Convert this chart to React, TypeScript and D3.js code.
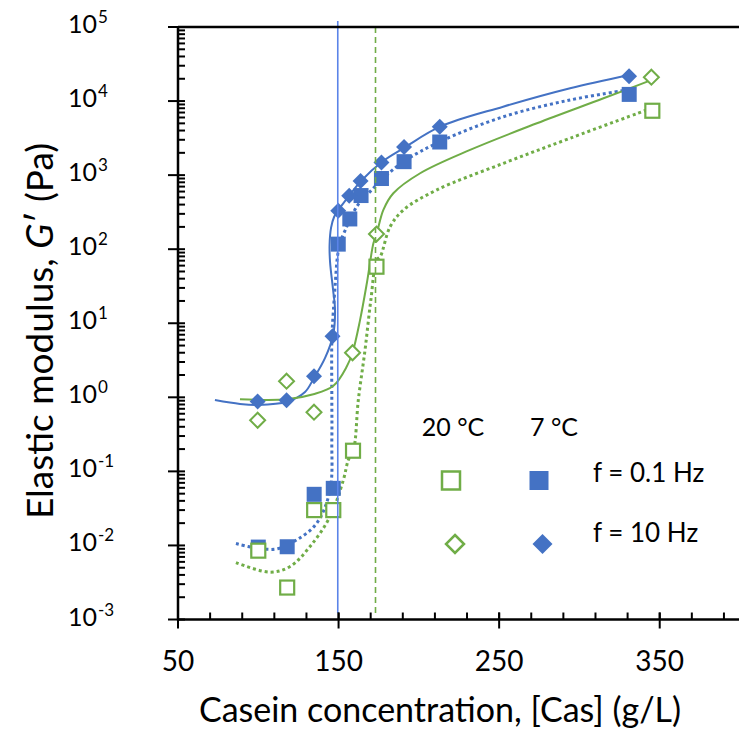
import * as d3 from 'd3';

// ---- data ----
// 7 °C, f = 0.1 Hz (filled squares)
const cas7Low = [100, 118, 134.8, 146.7, 149.8, 157, 164, 176.7, 190.8, 213, 331];
const g7Low = [0.0095, 0.0096, 0.049, 0.059, 117, 256, 530, 900, 1520, 2800, 12300];
// 7 °C, f = 10 Hz (filled diamonds)
const cas7High = [99.6, 117.6, 134.7, 146.2, 149.8, 156.6, 163.7, 176.7, 190.8, 213, 330.9];
const g7High = [0.88, 0.91, 1.92, 6.7, 330, 525, 830, 1480, 2400, 4500, 21700];
// 20 °C, f = 0.1 Hz (open squares)
const cas20Low = [100, 118, 134.8, 146.7, 159, 173.6, 345.4];
const g20Low = [0.0085, 0.0027, 0.03, 0.03, 0.19, 58, 7400];
// 20 °C, f = 10 Hz (open diamonds)
const cas20High = [99.6, 117.6, 134.7, 158.7, 173.6, 344.8];
const g20High = [0.49, 1.65, 0.63, 4.0, 160, 21000];

// fitted curves
const fit7HighX = [73, 88.6, 99.8, 117.9, 129.1, 134.7, 141.6, 146.6, 147.8, 146.6, 144.7, 144.4, 145.3, 147.2, 149.9, 156.5, 164, 176.9, 191.4, 213.2, 252.5, 294.2, 331];
const fit7HighY = [0.92, 0.815, 0.79, 0.87, 1.18, 1.83, 3.4, 6.95, 15, 28, 67, 114, 194, 272, 339, 524, 834, 1506, 2377, 4510, 8400, 14900, 22500];
const fit7LowX = [86.1, 99, 111.5, 124, 136.4, 144.7, 145.8, 145.8, 145.8, 146.4, 147.8, 149.3, 150.9, 155.1, 157.2, 161.3, 164.5, 169.6, 177.9, 190.4, 213.2, 252.7, 294.2, 329.6];
const fit7LowY = [0.0106, 0.0092, 0.009, 0.0119, 0.02, 0.056, 0.266, 0.92, 5.96, 11.1, 31, 79, 121, 201, 254, 375, 462, 598, 908, 1520, 2830, 6150, 10350, 14100];
const fit20HighX = [88.6, 117.7, 134.3, 146.8, 155.1, 158.8, 163.4, 167.6, 171.7, 173.8, 177.9, 184.1, 200.8, 231.9, 273.5, 315, 345.1];
const fit20HighY = [0.94, 0.94, 1.1, 1.43, 2.6, 4.1, 11.1, 34.7, 120, 164, 339, 569, 1060, 2190, 5010, 10900, 19300];
const fit20LowX = [86.1, 107.3, 119.8, 132.2, 144.7, 153, 156.1, 159.2, 162.3, 166.5, 170.1, 173.8, 175.9, 182.1, 190.4, 211.2, 252.7, 294.2, 342];
const fit20LowY = [0.00587, 0.00436, 0.00519, 0.00966, 0.0245, 0.0767, 0.143, 0.19, 0.92, 4.4, 20.6, 72, 79, 201, 339, 631, 1445, 3150, 7590];

// gel-point markers
const gel7 = 149.5;
const gel20 = 173;

const xMajor = [50, 150, 250, 350];
const yExponents = [-3, -2, -1, 0, 1, 2, 3, 4, 5];

const BLUE = '#4472C4';
const GREEN = '#70AD47';
const FONT = 'Lato, sans-serif';

export default function App() {
  const width = 739;
  const height = 734;
  const x = d3.scaleLinear().domain([50, 400]).range([178, 740]);
  const y = d3.scaleLog().domain([1e-3, 1e5]).range([619.5, 27]);

  const line = d3
    .line<[number, number]>()
    .x((d) => x(d[0]))
    .y((d) => y(d[1]))
    .curve(d3.curveCatmullRom.alpha(0.5));

  const pts = (xs: number[], ys: number[]) => xs.map((v, i) => [v, ys[i]] as [number, number]);

  const xMinor = d3.range(50, 400, 20);
  const yMinor: number[] = [];
  for (let e = -3; e < 5; e++) for (let m = 2; m <= 9; m++) yMinor.push(m * Math.pow(10, e));

  const axisY = y(1e-3);
  const sq = 15;
  const dm = 8;

  const diamond = (cx: number, cy: number, r: number) =>
    `M${cx},${cy - r}L${cx + r},${cy}L${cx},${cy + r}L${cx - r},${cy}Z`;

  return (
    <svg
      width={width}
      height={height}
      style={{ position: 'absolute', left: 0, top: 0, background: '#fff' }}
      fontFamily={FONT}
    >
      {/* fitted curves */}
      <path d={line(pts(fit7HighX, fit7HighY)) || ''} fill="none" stroke={BLUE} strokeWidth={2} />
      <path d={line(pts(fit7LowX, fit7LowY)) || ''} fill="none" stroke={BLUE} strokeWidth={3} strokeDasharray="3 3" />
      <path d={line(pts(fit20HighX, fit20HighY)) || ''} fill="none" stroke={GREEN} strokeWidth={2} />
      <path d={line(pts(fit20LowX, fit20LowY)) || ''} fill="none" stroke={GREEN} strokeWidth={3} strokeDasharray="3 3" />

      {/* 7 °C markers */}
      {cas7Low.map((c, i) => (
        <rect key={'bs' + i} x={x(c) - sq / 2} y={y(g7Low[i]) - sq / 2} width={sq} height={sq} fill={BLUE} />
      ))}
      {cas7High.map((c, i) => (
        <path key={'bd' + i} d={diamond(x(c), y(g7High[i]), dm)} fill={BLUE} />
      ))}
      {/* 20 °C markers */}
      {cas20Low.map((c, i) => (
        <rect key={'gs' + i} x={x(c) - 7} y={y(g20Low[i]) - 7} width={14} height={14} fill="#fff" stroke={GREEN} strokeWidth={2.2} />
      ))}
      {cas20High.map((c, i) => (
        <path key={'gd' + i} d={diamond(x(c), y(g20High[i]), 7.5)} fill="#fff" stroke={GREEN} strokeWidth={2} />
      ))}

      {/* gel point lines */}
      <line x1={x(gel7)} x2={x(gel7)} y1={21} y2={613} stroke="#5b84e8" strokeWidth={1.6} />
      <line x1={x(gel20)} x2={x(gel20)} y1={27} y2={613} stroke={GREEN} strokeWidth={1.6} strokeDasharray="6 4" />

      {/* axes */}
      <line x1={178} x2={width} y1={27} y2={27} stroke="#000" strokeWidth={2.5} />
      <line x1={178} x2={178} y1={26} y2={axisY + 1} stroke="#000" strokeWidth={2.5} />
      <line x1={177} x2={width} y1={axisY} y2={axisY} stroke="#000" strokeWidth={2.5} />
      {yMinor.map((v, i) => (
        <line key={'ym' + i} x1={178} x2={185} y1={y(v)} y2={y(v)} stroke="#000" strokeWidth={2} />
      ))}
      {yExponents.map((e) => (
        <line key={'yM' + e} x1={168} x2={185} y1={y(Math.pow(10, e))} y2={y(Math.pow(10, e))} stroke="#000" strokeWidth={2} />
      ))}
      {xMinor.map((v) => (
        <line key={'xm' + v} x1={x(v)} x2={x(v)} y1={axisY - 7} y2={axisY} stroke="#000" strokeWidth={2} />
      ))}
      {xMajor.map((v) => (
        <line key={'xM' + v} x1={x(v)} x2={x(v)} y1={axisY - 7} y2={axisY + 9} stroke="#000" strokeWidth={2} />
      ))}

      {/* tick labels */}
      {yExponents.map((e) => {
        const ty = y(Math.pow(10, e)) - 3;
        return (
          <g key={'yl' + e}>
            <text x={97} y={ty + 9} textAnchor="end" fontSize={25}>10</text>
            <text x={98} y={ty - 1} textAnchor="start" fontSize={17}>{String(e)}</text>
          </g>
        );
      })}
      {xMajor.map((v) => (
        <text key={'xl' + v} x={x(v)} y={671} textAnchor="middle" fontSize={28}>
          {v}
        </text>
      ))}

      {/* axis titles */}
      <text x={440} y={722} textAnchor="middle" fontSize={34}>
        Casein concentration, [Cas] (g/L)
      </text>
      <text transform="translate(53,331) rotate(-90)" textAnchor="middle" fontSize={37}>
        Elastic modulus, <tspan fontStyle="italic">G</tspan>′ (Pa)
      </text>

      {/* legend */}
      <text x={453} y={436} textAnchor="middle" fontSize={25}>20 °C</text>
      <text x={554} y={436} textAnchor="middle" fontSize={25}>7 °C</text>
      <rect x={451 - 9} y={480.5 - 9} width={18} height={18} fill="#fff" stroke={GREEN} strokeWidth={2.5} />
      <rect x={539 - 9.5} y={480.5 - 9.5} width={19} height={19} fill={BLUE} />
      <path d={diamond(455, 544, 9)} fill="#fff" stroke={GREEN} strokeWidth={2.5} />
      <path d={diamond(542.5, 544, 10)} fill={BLUE} />
      <text x={593} y={482} fontSize={26}>f = 0.1 Hz</text>
      <text x={593} y={542} fontSize={26}>f = 10 Hz</text>
    </svg>
  );
}
